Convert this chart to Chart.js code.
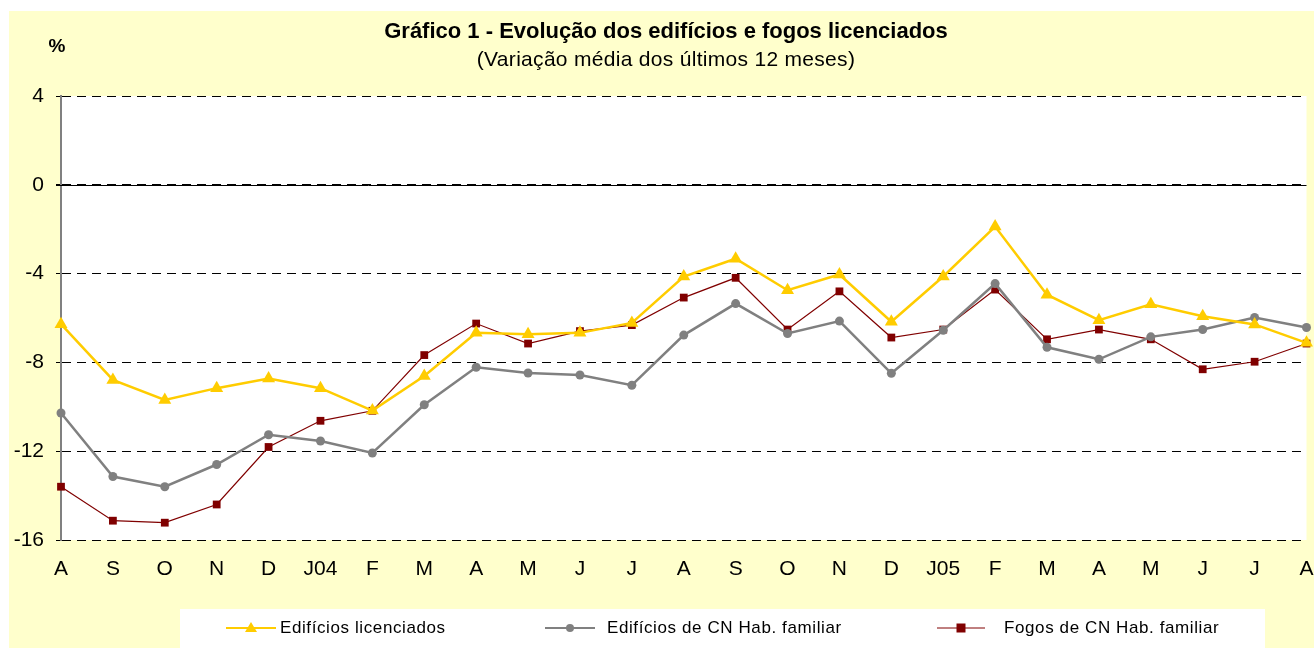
<!DOCTYPE html>
<html>
<head>
<meta charset="utf-8">
<script src="https://cdn.jsdelivr.net/npm/chart.js@4.4.1/dist/chart.umd.min.js"></script>
<style>
  html, body { margin: 0; padding: 0; background: #ffffff; }
  #wrap { width: 1314px; height: 648px; }
</style>
</head>
<body>
<div id="wrap"><canvas id="grafico" width="1314" height="648"></canvas></div>
<script>
// meses (Ago 2003 a Ago 2005)
const meses = ['A', 'S', 'O', 'N', 'D', 'J04', 'F', 'M', 'A', 'M', 'J', 'J', 'A', 'S', 'O', 'N', 'D', 'J05', 'F', 'M', 'A', 'M', 'J', 'J', 'A'];

const edificiosLicenciados = [-6.28, -8.79, -9.69, -9.16, -8.73, -9.16, -10.17, -8.61, -6.67, -6.73, -6.67, -6.22, -4.13, -3.33, -4.75, -4.04, -6.17, -4.13, -1.88, -4.95, -6.10, -5.38, -5.92, -6.29, -7.12];
const edificiosCN = [-10.28, -13.14, -13.60, -12.60, -11.26, -11.54, -12.08, -9.91, -8.22, -8.48, -8.57, -9.03, -6.77, -5.35, -6.70, -6.14, -8.49, -6.55, -4.45, -7.32, -7.86, -6.85, -6.52, -5.98, -6.43];
const fogosCN = [-13.60, -15.13, -15.22, -14.40, -11.81, -10.63, -10.18, -7.67, -6.25, -7.15, -6.59, -6.32, -5.08, -4.19, -6.52, -4.80, -6.88, -6.52, -4.72, -6.96, -6.52, -6.96, -8.31, -7.97, -7.15];

const ticksY = [4, 0, -4, -8, -12, -16];

const nomesSeries = ['Edifícios licenciados', 'Edifícios de CN Hab. familiar', 'Fogos de CN Hab. familiar'];

const AMARELO = '#FFCC00';
const CINZA = '#808080';
const GRENA = '#800000';
const FUNDO = '#FFFFCC';
const FONTE = '"Liberation Sans", Arial, sans-serif';

// fundo, area branca, titulo e legenda
const decoracao = {
    id: 'decoracao',
    beforeDraw(chart) {
        const ctx = chart.ctx;
        const a = chart.chartArea;
        ctx.save();
        ctx.fillStyle = FUNDO;
        ctx.fillRect(9, 11, chart.width - 9, chart.height - 11);
        ctx.fillStyle = '#ffffff';
        ctx.fillRect(a.left, a.top, a.right - a.left, a.bottom - a.top);
        ctx.restore();
    },
    beforeDatasetsDraw(chart) {
        // linha do zero continua
        const ctx = chart.ctx;
        const a = chart.chartArea;
        const y0 = chart.scales.y.getPixelForValue(0);
        ctx.save();
        ctx.strokeStyle = '#000000';
        ctx.lineWidth = 1;
        ctx.beginPath();
        ctx.moveTo(a.left - 5, Math.round(y0) + 0.5);
        ctx.lineTo(a.right, Math.round(y0) + 0.5);
        ctx.stroke();
        ctx.restore();
    },
    afterDraw(chart) {
        const ctx = chart.ctx;
        ctx.save();
        ctx.fillStyle = '#000000';
        ctx.textAlign = 'center';
        ctx.textBaseline = 'middle';
        ctx.font = 'bold 22px ' + FONTE;
        ctx.fillText('Gráfico 1 - Evolução dos edifícios e fogos licenciados', 666, 32);
        ctx.font = '21px ' + FONTE;
        ctx.letterSpacing = '0.3px';
        ctx.fillText('(Variação média dos últimos 12 meses)', 666, 60);
        ctx.letterSpacing = '0px';
        ctx.font = 'bold 19px ' + FONTE;
        ctx.fillText('%', 57, 47);

        // legenda
        ctx.fillStyle = '#ffffff';
        ctx.fillRect(180, 609, 1085, 39);
        const itens = [
            { x1: 226, x2: 276, tx: 280, cor: AMARELO, tipo: 'triangle', lw: 2 },
            { x1: 545, x2: 595, tx: 607, cor: CINZA, tipo: 'circle', lw: 2 },
            { x1: 937, x2: 985, tx: 1004, cor: GRENA, tipo: 'rect', lw: 1 }
        ];
        const yl = 628;
        itens.forEach((it, i) => {
            ctx.strokeStyle = it.cor;
            ctx.lineWidth = it.lw;
            ctx.beginPath();
            ctx.moveTo(it.x1, yl);
            ctx.lineTo(it.x2, yl);
            ctx.stroke();
            ctx.fillStyle = it.cor;
            const cx = (it.x1 + it.x2) / 2;
            ctx.beginPath();
            if (it.tipo === 'triangle') {
                ctx.moveTo(cx, yl - 6);
                ctx.lineTo(cx + 6, yl + 4);
                ctx.lineTo(cx - 6, yl + 4);
                ctx.closePath();
            } else if (it.tipo === 'circle') {
                ctx.arc(cx, yl, 4, 0, Math.PI * 2);
            } else {
                ctx.rect(cx - 4.5, yl - 4.5, 9, 9);
            }
            ctx.fill();
            ctx.fillStyle = '#000000';
            ctx.textAlign = 'left';
            ctx.font = '17px ' + FONTE;
            ctx.letterSpacing = '0.6px';
            ctx.fillText(nomesSeries[i], it.tx, yl);
        });
        ctx.restore();
    }
};

const ctx = document.getElementById('grafico');
new Chart(ctx, {
    type: 'line',
    data: {
        labels: meses,
        datasets: [
            {
                label: nomesSeries[0],
                data: edificiosLicenciados,
                borderColor: AMARELO,
                backgroundColor: AMARELO,
                borderWidth: 2.5,
                pointStyle: 'triangle',
                pointRadius: 7.5,
                pointBorderWidth: 0,
                tension: 0,
                clip: false
            },
            {
                label: nomesSeries[1],
                data: edificiosCN,
                borderColor: CINZA,
                backgroundColor: CINZA,
                borderWidth: 2.5,
                pointStyle: 'circle',
                pointRadius: 4.5,
                pointBorderWidth: 0,
                tension: 0,
                clip: false
            },
            {
                label: nomesSeries[2],
                data: fogosCN,
                borderColor: GRENA,
                backgroundColor: GRENA,
                borderWidth: 1.2,
                pointStyle: 'rect',
                pointRadius: 5.5,
                pointBorderWidth: 0,
                tension: 0,
                clip: false
            }
        ]
    },
    options: {
        responsive: false,
        animation: false,
        layout: { padding: { left: 9, top: 96, right: 6, bottom: 0 } },
        plugins: {
            legend: { display: false },
            title: { display: false },
            tooltip: { enabled: false }
        },
        scales: {
            x: {
                offset: false,
                grid: { display: false },
                border: { display: false },
                ticks: {
                    autoSkip: false,
                    maxRotation: 0,
                    color: '#000000',
                    padding: 9,
                    font: { family: FONTE, size: 21 }
                },
                afterFit(scale) {
                    scale.height = 108;
                    scale.paddingLeft = 0;
                    scale.paddingRight = 0;
                }
            },
            y: {
                min: -16,
                max: 4,
                afterBuildTicks(scale) {
                    scale.ticks = ticksY.map(v => ({ value: v }));
                },
                grid: {
                    color: '#000000',
                    lineWidth: 1,
                    tickLength: 5,
                    drawTicks: true
                },
                border: { display: true, color: CINZA, width: 2, dash: [9, 6] },
                ticks: {
                    color: '#000000',
                    padding: 12,
                    font: { family: FONTE, size: 21 }
                },
                afterFit(scale) {
                    scale.width = 52;
                    scale.paddingTop = 0;
                    scale.paddingBottom = 0;
                }
            }
        }
    },
    plugins: [decoracao]
});
</script>
</body>
</html>
